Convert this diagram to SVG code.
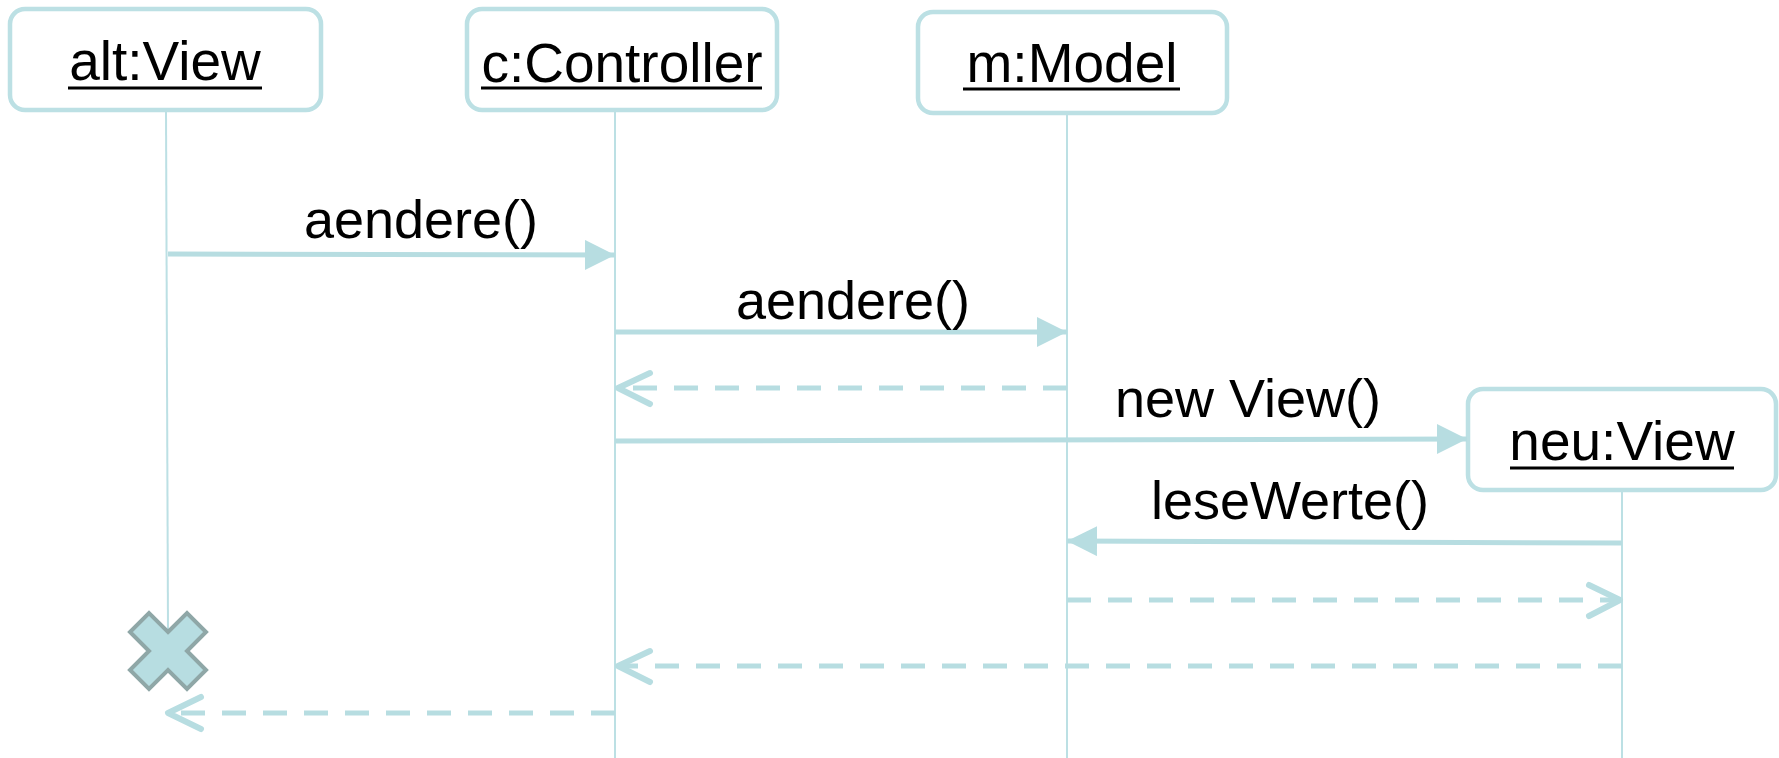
<svg xmlns="http://www.w3.org/2000/svg" width="1779" height="758" viewBox="0 0 1779 758">
<style>
.box{fill:#fff;stroke:#bce0e4;stroke-width:4.5}
.life{stroke:#bce0e4;stroke-width:2;fill:none}
.t{font-family:"Liberation Sans",Arial,sans-serif;font-size:55px;fill:#000;text-anchor:middle}
.lbl{font-family:"Liberation Sans",Arial,sans-serif;font-size:54px;fill:#000;text-anchor:middle}
.ul{stroke:#000;stroke-width:3}
.msg{stroke:#b7dde1;stroke-width:5;fill:none}
.ret{stroke:#b7dde1;stroke-width:5;fill:none;stroke-dasharray:24 17}
.head{fill:#b7dde1}
.open{fill:none;stroke:#b7dde1;stroke-width:6;stroke-linecap:round;stroke-linejoin:round}
</style>
<defs>
<marker id="filled" markerUnits="userSpaceOnUse" markerWidth="32" markerHeight="32" refX="30" refY="15" orient="auto" viewBox="0 0 32 32">
<path d="M0,0 L30,15 L0,30 Z" class="head"/>
</marker>
</defs>
<rect width="1779" height="758" fill="#fff"/>
<g id="lifelines">
<line class="life" x1="166" y1="110" x2="168" y2="632"/>
<line class="life" x1="615" y1="110" x2="615" y2="758"/>
<line class="life" x1="1067" y1="113" x2="1067" y2="758"/>
<line class="life" x1="1622" y1="490" x2="1622" y2="758"/>
</g>
<g id="alt">
<rect class="box" x="10" y="9" width="311" height="101" rx="15"/>
<text class="t" x="165" y="80">alt:View</text>
<line class="ul" x1="68" y1="88" x2="262" y2="88"/>
</g>
<g id="controller">
<rect class="box" x="467" y="9" width="310" height="101" rx="15"/>
<text class="t" x="622" y="82">c:Controller</text>
<line class="ul" x1="481" y1="88" x2="762" y2="88"/>
</g>
<g id="model">
<rect class="box" x="918" y="12" width="309" height="101" rx="15"/>
<text class="t" x="1072" y="82">m:Model</text>
<line class="ul" x1="963" y1="89" x2="1180" y2="89"/>
</g>
<g id="neu">
<rect class="box" x="1468" y="389" width="308" height="101" rx="15"/>
<text class="t" x="1622" y="460">neu:View</text>
<line class="ul" x1="1510" y1="468" x2="1734" y2="468"/>
</g>
<g id="destroy">
<polygon points="168,632 187,613 206,632 187,651 206,670 187,689 168,670 149,689 130,670 149,651 130,632 149,613" fill="#b7dde1" stroke="#8fa7a7" stroke-width="4"/>
</g>
<g id="connectors">
<line class="msg" x1="168" y1="254" x2="615" y2="255" marker-end="url(#filled)"/>
<text class="lbl" x="421" y="238">aendere()</text>
<line class="msg" x1="615" y1="332" x2="1067" y2="332" marker-end="url(#filled)"/>
<text class="lbl" x="853" y="319">aendere()</text>
<line class="ret" x1="1067" y1="388" x2="619" y2="388"/>
<polyline class="open" points="650,373 618,388 650,404"/>
<line class="msg" x1="615" y1="441" x2="1467" y2="439" marker-end="url(#filled)"/>
<text class="lbl" x="1248" y="417">new View()</text>
<line class="msg" x1="1622" y1="543" x2="1067" y2="541" marker-end="url(#filled)"/>
<text class="lbl" x="1290" y="519">leseWerte()</text>
<line class="ret" x1="1067" y1="600" x2="1618" y2="600"/>
<polyline class="open" points="1589,585 1620,600 1589,616"/>
<line class="ret" x1="1622" y1="666" x2="619" y2="666"/>
<polyline class="open" points="650,651 618,666 650,682"/>
<line class="ret" x1="615" y1="713" x2="171" y2="713"/>
<polyline class="open" points="201,697 168,713 201,729"/>
</g>
</svg>
